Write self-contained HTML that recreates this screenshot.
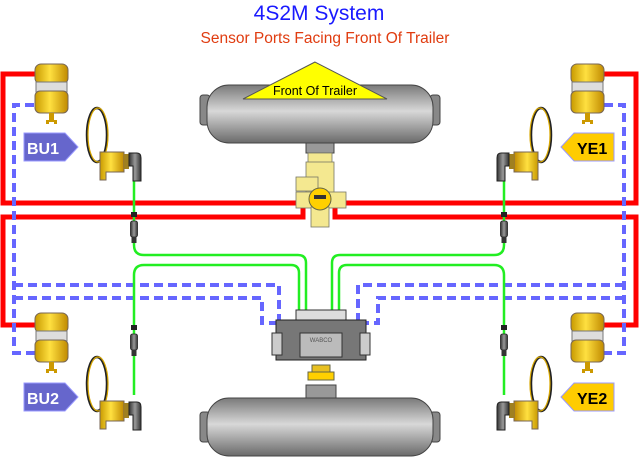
<!DOCTYPE html>
<html><head><meta charset="utf-8"><style>
body{margin:0;background:#fff}
svg{display:block;font-family:"Liberation Sans",sans-serif}
</style></head><body>
<svg width="639" height="457" viewBox="0 0 639 457" xmlns="http://www.w3.org/2000/svg">
<defs>
<linearGradient id="tank" x1="0" y1="0" x2="0" y2="1">
<stop offset="0" stop-color="#7a7a7a"/><stop offset="0.45" stop-color="#d8d8d8"/><stop offset="1" stop-color="#6a6a6a"/></linearGradient>
<linearGradient id="gold" x1="0" y1="0" x2="1" y2="0">
<stop offset="0" stop-color="#c89a00"/><stop offset="0.45" stop-color="#ffe040"/><stop offset="1" stop-color="#c08a00"/></linearGradient>
<linearGradient id="dg" x1="0" y1="0" x2="1" y2="0">
<stop offset="0" stop-color="#333"/><stop offset="0.5" stop-color="#999"/><stop offset="1" stop-color="#333"/></linearGradient>
<g id="cham">
<rect x="0" y="0" width="33" height="20" rx="6" fill="url(#gold)" stroke="#765" stroke-width="1"/>
<rect x="1" y="18" width="31" height="10" fill="#ddd" stroke="#777" stroke-width="1"/>
<rect x="0" y="27" width="33" height="22" rx="5" fill="url(#gold)" stroke="#765" stroke-width="1"/>
<rect x="14" y="49" width="5" height="7" fill="#c90"/>
<path d="M11 56 h11 v4 h-3 v-2 h-5 v2 h-3z" fill="#c90"/>
</g>
<g id="sens">
<ellipse cx="0" cy="0" rx="10" ry="27" fill="none" stroke="#222" stroke-width="2.5"/>
<ellipse cx="1" cy="0" rx="10" ry="27" fill="none" stroke="#d9a800" stroke-width="1.2"/>
<path d="M3 17 h24 v20 h-18 v8 h-6z" fill="url(#gold)" stroke="#765"/>
<rect x="27" y="19" width="5" height="15" fill="#a08020"/>
<path d="M32 18 h8 q4 0 4 5 v23 h-8 v-15 h-4z" fill="url(#dg)" stroke="#222"/>
</g>
<g id="conn">
<rect x="-3" y="0" width="6" height="5" fill="#222"/>
<rect x="-3.5" y="9" width="7" height="16" rx="2" fill="url(#dg)" stroke="#222" stroke-width="0.8"/>
<rect x="-2.5" y="25" width="5" height="6" fill="#333"/>
</g>
</defs>

<text x="319" y="20" text-anchor="middle" font-size="21" fill="#1a1aff">4S2M System</text>
<text x="325" y="43" text-anchor="middle" font-size="15.5" fill="#e03c10">Sensor Ports Facing Front Of Trailer</text>

<!-- top tank -->
<rect x="200" y="95" width="10" height="30" rx="3" fill="#888" stroke="#444"/>
<rect x="430" y="95" width="10" height="30" rx="3" fill="#888" stroke="#444"/>
<rect x="207" y="85" width="226" height="58" rx="22" fill="url(#tank)" stroke="#444"/>
<polygon points="315,62 243,99 387,99" fill="#ffff00" stroke="#555"/>
<text x="315" y="95" text-anchor="middle" font-size="12.5" fill="#000">Front Of Trailer</text>
<rect x="306" y="143" width="28" height="10" fill="#999" stroke="#444"/>

<!-- red lines -->
<g fill="none" stroke="#ff0000" stroke-width="5">
<path d="M36 74 H3 V203 H300"/>
<path d="M340 203 H636 V74 H603"/>
<path d="M303 208 V217 H3 V325 H36"/>
<path d="M335 208 V217 H636 V325 H603"/>
</g>

<!-- valve -->
<g stroke="#776" stroke-width="0.8" fill="#f4e890">
<rect x="308" y="153" width="24" height="12"/>
<rect x="306" y="162" width="28" height="45"/>
<rect x="296" y="177" width="22" height="14"/>
<rect x="296" y="192" width="20" height="16"/>
<rect x="326" y="192" width="20" height="16"/>
<rect x="311" y="207" width="18" height="20"/>
</g>
<circle cx="320" cy="199" r="11" fill="#ffd000" stroke="#664"/>
<rect x="314" y="195" width="12" height="4" fill="#333"/>

<!-- blue dashed -->
<g fill="none" stroke="#6666ff" stroke-width="4" stroke-dasharray="9,5">
<path d="M34 105 H14 V353 H35"/>
<path d="M14 285 H279 V323 H292"/>
<path d="M14 298 H262 V323 H276"/>
<path d="M604 105 H624 V353 H603"/>
<path d="M624 285 H358 V323 H346"/>
<path d="M624 298 H378 V323 H362"/>
</g>

<!-- green -->
<g fill="none" stroke="#22ee22" stroke-width="2.5">
<path d="M134 180 V245 Q134 255 144 255 H298 Q306 255 306 263 V312"/>
<path d="M134 395 V275 Q134 265 144 265 H291 Q299 265 299 273 V312"/>
<path d="M504 180 V245 Q504 255 494 255 H340 Q332 255 332 263 V312"/>
<path d="M504 395 V275 Q504 265 494 265 H347 Q339 265 339 273 V312"/>
</g>

<!-- connectors -->
<use href="#conn" x="134" y="212"/>
<use href="#conn" x="504" y="212"/>
<use href="#conn" x="134" y="325"/>
<use href="#conn" x="504" y="325"/>

<!-- chambers -->
<use href="#cham" x="35" y="64"/>
<use href="#cham" x="571" y="64"/>
<use href="#cham" x="35" y="313"/>
<use href="#cham" x="571" y="313"/>

<!-- sensors -->
<use href="#sens" x="97" y="135"/>
<use href="#sens" x="97" y="384"/>
<use href="#sens" transform="translate(541,135) scale(-1,1)"/>
<use href="#sens" transform="translate(541,384) scale(-1,1)"/>

<!-- labels -->
<g font-size="16" font-weight="bold">
<polygon points="24,133 65,133 78,147 65,161 24,161" fill="#6666cc" stroke="#99f"/>
<text x="27" y="154" fill="#fff">BU1</text>
<polygon points="24,383 65,383 78,397 65,411 24,411" fill="#6666cc" stroke="#99f"/>
<text x="27" y="404" fill="#fff">BU2</text>
<polygon points="561,147 574,133 614,133 614,161 574,161" fill="#ffcc00" stroke="#99f"/>
<text x="577" y="154" fill="#000">YE1</text>
<polygon points="561,397 574,383 614,383 614,411 574,411" fill="#ffcc00" stroke="#99f"/>
<text x="577" y="404" fill="#000">YE2</text>
</g>

<!-- ECU -->
<rect x="296" y="310" width="50" height="12" fill="#ddd" stroke="#333"/>
<rect x="276" y="320" width="90" height="40" fill="#777" stroke="#222"/>
<rect x="272" y="333" width="10" height="22" fill="#ccc" stroke="#333"/>
<rect x="360" y="333" width="10" height="22" fill="#ccc" stroke="#333"/>
<rect x="300" y="333" width="42" height="24" fill="#bbb" stroke="#333"/>
<text x="321" y="342" text-anchor="middle" font-size="6" fill="#555">WABCO</text>
<rect x="312" y="365" width="18" height="14" fill="#e8c020" stroke="#664"/>
<rect x="308" y="372" width="26" height="8" fill="#ffd000" stroke="#664"/>
<rect x="306" y="385" width="30" height="14" fill="#999" stroke="#444"/>

<!-- bottom tank -->
<rect x="200" y="412" width="10" height="30" rx="3" fill="#888" stroke="#444"/>
<rect x="430" y="412" width="10" height="30" rx="3" fill="#888" stroke="#444"/>
<rect x="207" y="398" width="226" height="58" rx="22" fill="url(#tank)" stroke="#444"/>
</svg>
</body></html>
